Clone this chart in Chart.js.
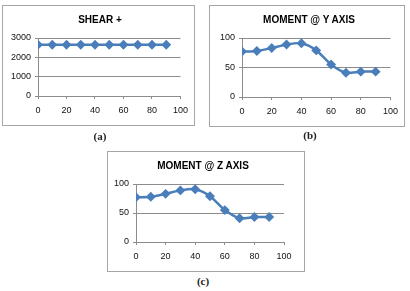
<!DOCTYPE html>
<html>
<head>
<meta charset="utf-8">
<script src="https://cdn.jsdelivr.net/npm/chart.js@4/dist/chart.umd.min.js"></script>
<style>
    body { margin: 0; background: #fff; width: 410px; height: 291px; position: relative; overflow: hidden; }
    .box { position: absolute; border: 1px solid #a6a6a6; background: #fff; }
    .box canvas { display: block; }
    .ttl { position: absolute; font: bold 10px "Liberation Sans", sans-serif; color: #000; transform: translateX(-50%); white-space: nowrap; }
    .cap { position: absolute; font: bold 11px "Liberation Serif", serif; color: #222; transform: translateX(-50%); }
</style>
</head>
<body>
<div class="box" style="left:2px; top:5px; width:191px; height:119px;"><canvas id="chartA"></canvas></div>
<div class="box" style="left:209px; top:5px; width:194px; height:120px;"><canvas id="chartB"></canvas></div>
<div class="box" style="left:107px; top:151px; width:196px; height:119px;"><canvas id="chartC"></canvas></div>
<div class="ttl" id="titleA" style="left:100px; top:14px;"></div>
<div class="ttl" id="titleB" style="left:309px; top:14px;"></div>
<div class="ttl" id="titleC" style="left:203px; top:160px;"></div>
<div class="cap" style="left:100px; top:130px;">(a)</div>
<div class="cap" style="left:310px; top:129px;">(b)</div>
<div class="cap" style="left:203px; top:275px;">(c)</div>
<script>
// --- DATA ---
const xValues = [0, 10, 20, 30, 40, 50, 60, 70, 80, 90];
const shearValues = [2650, 2650, 2650, 2650, 2650, 2650, 2650, 2650, 2650, 2650];
const momentYValues = [77, 78, 83, 89, 91, 79, 55, 41, 43, 43];
const momentZValues = [77, 78, 83, 89, 91, 79, 55, 41, 43, 43];

const titles = ['SHEAR +', 'MOMENT @ Y AXIS', 'MOMENT @ Z AXIS'];

const lineColor = '#4a7ebb';
const gridColor = '#8c8c8c';
const tickFont = { family: 'Liberation Sans', size: 9 };

function makeChart(id, w, h, values, yMax, yStep, layout) {
    const canvas = document.getElementById(id);
    canvas.width = w;
    canvas.height = h;
    const points = xValues.map((x, i) => ({ x: x, y: values[i] }));

    return new Chart(canvas, {
        type: 'line',
        data: {
            datasets: [{
                data: points,
                borderColor: lineColor,
                backgroundColor: lineColor,
                borderWidth: 2.5,
                pointStyle: 'rectRot',
                pointRadius: 3.2,
                tension: 0.25,
                fill: false
            }]
        },
        options: {
            responsive: false,
            animation: false,
            layout: { padding: { left: 0, right: layout.right, top: layout.top, bottom: 0 } },
            plugins: {
                legend: { display: false },
                tooltip: { enabled: false }
            },
            scales: {
                x: {
                    type: 'linear',
                    min: 0,
                    max: 100,
                    ticks: { stepSize: 20, color: '#111', font: tickFont, padding: 6 },
                    grid: { display: true, drawOnChartArea: false, tickLength: 3, color: gridColor },
                    border: { color: gridColor },
                    afterFit: scale => { scale.height = layout.bottom; }
                },
                y: {
                    min: 0,
                    max: yMax,
                    ticks: { stepSize: yStep, color: '#111', font: tickFont, padding: 4, callback: v => String(v) },
                    grid: { color: gridColor, tickLength: 3 },
                    border: { color: gridColor },
                    afterFit: scale => { scale.width = layout.left; }
                }
            }
        }
    });
}

document.getElementById('titleA').textContent = titles[0];
document.getElementById('titleB').textContent = titles[1];
document.getElementById('titleC').textContent = titles[2];

makeChart('chartA', 191, 119, shearValues, 3000, 1000,
    { left: 35, right: 10, top: 32, bottom: 29 });
makeChart('chartB', 194, 120, momentYValues, 100, 50,
    { left: 32, right: 12, top: 32, bottom: 29 });
makeChart('chartC', 196, 119, momentZValues, 100, 50,
    { left: 28, right: 20, top: 32, bottom: 29 });
</script>
</body>
</html>
